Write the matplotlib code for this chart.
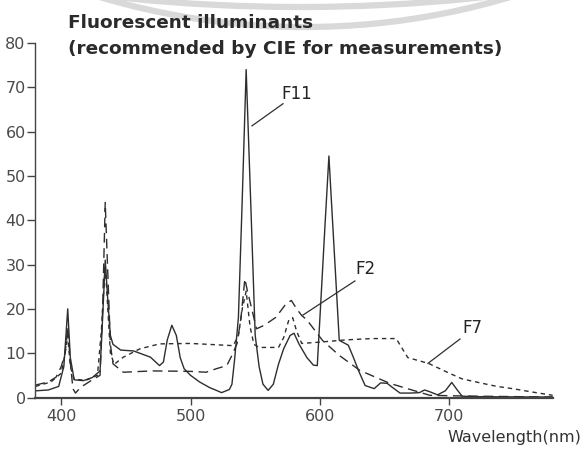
import matplotlib
matplotlib.use("Agg")
import matplotlib.pyplot as plt
from matplotlib.patches import Arc

# ---- data (wavelength nm, relative power) ----
f11_wl = [380, 390, 398, 402, 405, 407, 410, 417, 424, 430, 432, 434, 436, 438, 440,
          446, 456, 469, 476, 479, 482, 485.5, 489, 492, 495, 500, 507, 515, 520, 524,
          530, 532, 534, 537, 540, 543, 545, 547, 550, 553, 556, 560, 564, 568, 572,
          577, 580, 584, 590, 595, 598, 601, 604, 607, 609, 612, 615, 622, 626, 630,
          635, 642, 647, 652, 656, 662, 670, 677, 681, 685, 691, 697, 702, 706, 710,
          720, 740, 780]
f11_val = [1.5, 1.7, 2.5, 7, 20, 9, 4, 3.8, 4.5, 6, 18, 31, 22, 14, 12,
           10.7, 10.5, 9.1, 7.2, 8, 13, 16.3, 14, 9, 6.5, 5, 3.5, 2.2, 1.6, 1.1,
           1.8, 3, 8.4, 18, 45, 74, 57, 40, 14, 7, 3, 1.6, 3, 7.5, 11,
           14, 14.5, 12, 9, 7.3, 7.2, 23, 39, 54.5, 44, 28.5, 12.9, 11.8, 9, 6,
           2.7, 2.0, 3.3, 3.2, 2.3, 1.0, 1.0, 1.1, 1.7, 1.3, 0.6, 1.5, 3.4, 1.8, 0.3,
           0.2, 0.15, 0.1]

f2_wl = [380, 390, 396, 400, 403, 405, 407, 409, 411, 415, 423, 430, 432, 434, 436,
         438, 440, 448, 470, 500, 512, 520, 528, 532, 536, 539, 542, 544, 547, 551,
         557, 566, 574, 578, 582, 586, 590, 602, 615, 631, 654, 670, 685, 700, 720,
         750, 780]
f2_val = [2.8, 3.5, 4.6, 7, 10, 16, 8, 2, 1, 2.3, 3.8, 5, 20, 44, 28,
          12, 7.6, 5.7, 6.0, 5.9, 5.7, 6.5, 7.2, 9.5, 12.2, 18, 26.8, 24, 20.4, 15.5,
          16.3, 18.1, 21.2, 21.9, 20, 18.5, 17.5, 12.9, 9.5, 6.1, 3.2, 1.8, 0.5, 0.4, 0.3,
          0.2, 0.1]

f7_wl = [380, 392, 400, 403, 405, 407, 410, 420, 428, 431, 434, 436, 438, 441, 448,
         461, 476, 500, 533, 537, 540, 543, 546, 549, 553, 568, 572, 576, 579, 582,
         586, 600, 620, 640, 659, 668, 684, 700, 710, 724, 737, 749, 765, 780]
f7_val = [2.5, 3.5, 5.5, 10, 14, 7, 4, 4, 5, 15, 30, 20, 10, 7.5, 9.1,
          11, 12.1, 12.2, 11.7, 14, 20, 24, 16, 12, 11.3, 11.3, 13.5, 17.5, 18, 15,
          12.2, 12.5, 13, 13.3, 13.3, 9, 7.7, 5.5, 4.2, 3.3, 2.5, 2.0, 1.2, 0.5]

x_ticks = [400, 500, 600, 700]
y_ticks = [0, 10, 20, 30, 40, 50, 60, 70, 80]
title_lines = ["Fluorescent illuminants", "(recommended by CIE for measurements)"]
x_label = "Wavelength(nm)"
series_labels = ["F11", "F2", "F7"]

W, H = 582, 450
plt.rcParams["font.family"] = ["DejaVu Sans"]
fig = plt.figure(figsize=(W / 100, H / 100), dpi=100)
fig.patch.set_facecolor("white")

# faint watermark arcs at the top of the scan
for cx, cy, r in [(305, -691, 718), (300, -1713, 1720)]:
    fig.patches.append(Arc((cx / W, (H - cy) / H), 2 * r / W, 2 * r / H,
                           theta1=180, theta2=360, transform=fig.transFigure,
                           color="#d9d9d9", lw=4.5, zorder=0))

ax = fig.add_axes([35.4 / W, (H - 397.5) / H, 517.2 / W, 354.5 / H])
ax.set_facecolor("none")

ink = "#2e2e2e"
ax.plot(f11_wl, f11_val, color=ink, lw=1.0, solid_joinstyle="round")
l2, = ax.plot(f2_wl, f2_val, color=ink, lw=1.0)
l2.set_dashes([7, 4])
l7, = ax.plot(f7_wl, f7_val, color=ink, lw=1.0)
l7.set_dashes([3.2, 2.8])

ax.set_xlim(380, 780)
ax.set_ylim(0, 80)
for s in ["top", "right"]:
    ax.spines[s].set_visible(False)
ax.spines["left"].set_color("#444444")
ax.spines["left"].set_linewidth(1.0)
ax.spines["bottom"].set_color("#444444")
ax.spines["bottom"].set_linewidth(1.6)

ax.set_xticks(x_ticks)
ax.set_yticks(y_ticks)
ax.tick_params(axis="both", direction="out", colors="#444444", labelcolor="#4a4a4a",
               labelsize=11.5)
ax.tick_params(axis="y", length=6, width=1.0, pad=1)
ax.tick_params(axis="x", length=5, width=1.0, pad=3)

# series labels with leader lines
ax.plot([547.5, 571.5], [61.3, 66.3], color=ink, lw=0.9)
ax.text(582.5, 68.6, series_labels[0], fontsize=12, color="#222222", ha="center", va="center")
ax.plot([586.9, 627.1], [18.6, 26.3], color=ink, lw=0.9)
ax.text(635.6, 29.0, series_labels[1], fontsize=12, color="#222222", ha="center", va="center")
ax.plot([683.6, 708.4], [7.7, 13.2], color=ink, lw=0.9)
ax.text(717.6, 15.6, series_labels[2], fontsize=12, color="#222222", ha="center", va="center")

fig.text(68 / W, 1 - 28 / H, title_lines[0], fontsize=13.3, fontweight="bold",
         color="#2a2a2a", ha="left", va="baseline")
fig.text(68 / W, 1 - 54 / H, title_lines[1], fontsize=13.3, fontweight="bold",
         color="#2a2a2a", ha="left", va="baseline")
fig.text(581 / W, 1 - 442 / H, x_label, fontsize=11.5, color="#333333",
         ha="right", va="baseline")

fig.savefig("out.png", dpi=100, facecolor="white")
